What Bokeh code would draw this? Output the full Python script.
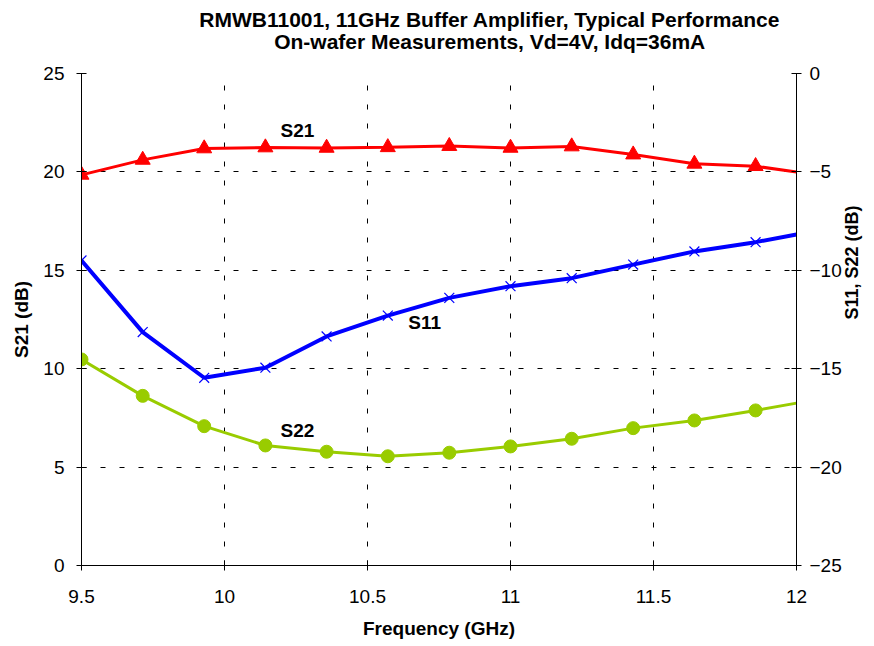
import math
from bokeh.plotting import figure
from bokeh.models import LinearAxis, Range1d, FixedTicker, Label
from bokeh.layouts import column
from bokeh.core.properties import value
from bokeh.embed import file_html
from bokeh.resources import INLINE

# ---- data ----
freq = [9.5, 9.714, 9.929, 10.143, 10.357, 10.571, 10.786, 11.0, 11.214, 11.429, 11.643, 11.857, 12.0]
s21 = [19.85, 20.61, 21.19, 21.24, 21.22, 21.25, 21.31, 21.22, 21.29, 20.88, 20.41, 20.29, 19.99]
s11 = [-9.50, -13.14, -15.46, -14.95, -13.36, -12.30, -11.40, -10.81, -10.40, -9.71, -9.04, -8.57, -8.18]
s22 = [-14.53, -16.38, -17.92, -18.90, -19.22, -19.45, -19.27, -18.95, -18.56, -18.02, -17.63, -17.12, -16.75]
x_ticks = [9.5, 10, 10.5, 11, 11.5, 12]
left_ticks = [0, 5, 10, 15, 20, 25]
right_ticks = [-25, -20, -15, -10, -5, 0]
title_lines = ["RMWB11001, 11GHz Buffer Amplifier, Typical Performance",
               "On-wafer Measurements, Vd=4V, Idq=36mA"]

FONT = "Liberation Sans"
FS = "19px"
HEAD_H = 60

# ---- header with two-line title ----
head = figure(width=874, height=HEAD_H, output_backend="svg", toolbar_location=None,
              x_range=Range1d(0, 874), y_range=Range1d(HEAD_H, 0),
              min_border=0, min_border_left=0, min_border_right=0,
              min_border_top=0, min_border_bottom=0)
head.axis.visible = False
head.grid.visible = False
head.outline_line_color = None
head.text(x=[499, 499], y=[19, 41], text=title_lines, text_font=value(FONT),
          text_font_size="21px", text_font_style="bold", text_color="black",
          text_align="center", text_baseline="middle")

# ---- main chart ----
p = figure(width=874, height=646 - HEAD_H, output_backend="svg", toolbar_location=None,
           x_range=Range1d(9.5, 12), y_range=Range1d(0, 25),
           min_border_left=81, min_border_right=78, min_border_top=73 - HEAD_H,
           min_border_bottom=81)
p.outline_line_color = None
p.extra_y_ranges = {"right": Range1d(-25, 0)}

xax = p.below[0]
lax = p.left[0]
ry = LinearAxis(y_range_name="right", ticker=FixedTicker(ticks=right_ticks),
                axis_label="S11, S22 (dB)")
p.add_layout(ry, "right")

for ax in (xax, lax, ry):
    ax.major_label_text_font = FONT
    ax.major_label_text_font_size = FS
    ax.major_label_text_color = "black"
    ax.axis_label_text_font = FONT
    ax.axis_label_text_font_size = FS
    ax.axis_label_text_font_style = "bold"
    ax.axis_label_text_color = "black"
    ax.axis_line_color = "black"
    ax.major_tick_line_color = "black"
    ax.minor_tick_line_color = None
    ax.major_tick_in = 5
    ax.major_tick_out = 5

xax.ticker = FixedTicker(ticks=x_ticks)
xax.axis_label = "Frequency (GHz)"
xax.major_label_standoff = 19
xax.axis_label_standoff = 12
lax.ticker = FixedTicker(ticks=left_ticks)
lax.axis_label = "S21 (dB)"
lax.major_label_standoff = 12
lax.axis_label_standoff = 8
ry.axis_label_text_font_size = "18px"
ry.major_label_standoff = 8
ry.axis_label_standoff = 7
if hasattr(ry, "axis_label_orientation"):
    ry.axis_label_orientation = math.pi / 2

# grid
p.xgrid.ticker = FixedTicker(ticks=[10, 10.5, 11, 11.5])
p.ygrid.ticker = FixedTicker(ticks=[5, 10, 15, 20, 25])
for g in (p.xgrid[0], p.ygrid[0]):
    g.grid_line_color = "black"
    g.grid_line_dash = "5 14"
    g.grid_line_width = 1

# series
p.line(freq, s21, line_color="#FF0000", line_width=3)
p.scatter(freq[:-1], s21[:-1], marker="triangle", size=15, fill_color="#FF0000",
          line_color="#FF0000")

p.line(freq, s11, line_color="#0000FF", line_width=4, y_range_name="right")
p.scatter(freq[:-1], s11[:-1], marker="x", size=14, line_color="#0000FF",
          line_width=1.2, y_range_name="right")

p.line(freq, s22, line_color="#99CC00", line_width=3, y_range_name="right")
p.scatter(freq[:-1], s22[:-1], marker="circle", size=13, fill_color="#99CC00",
          line_color="#99CC00", y_range_name="right")

# series labels
for txt, x, y, rng in [("S21", 10.255, 22.1, "default"),
                       ("S11", 10.70, -12.65, "right"),
                       ("S22", 10.255, -18.14, "right")]:
    p.add_layout(Label(x=x, y=y, text=txt, y_range_name=rng, text_font=FONT,
                       text_font_size=FS, text_font_style="bold",
                       text_color="black",
                       text_align="center", text_baseline="middle"))

layout = column(head, p, spacing=0)
open("out.html", "w").write(file_html(layout, INLINE))
